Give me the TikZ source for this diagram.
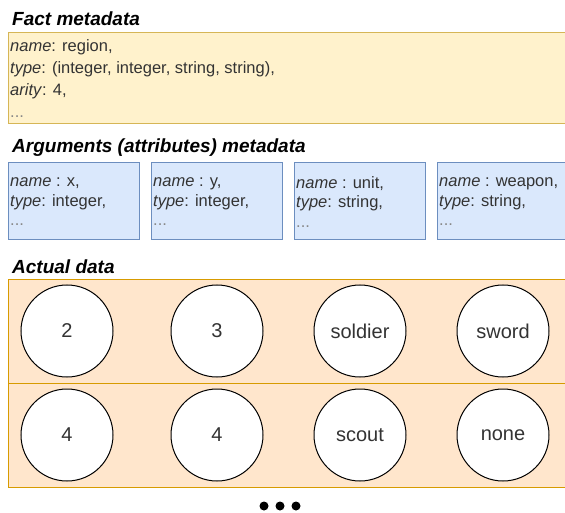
\documentclass[tikz,border=0pt]{standalone}
\usepackage{fontspec}
\setmainfont{Liberation Sans}
\definecolor{yfill}{HTML}{FFF2CC}
\definecolor{yedge}{HTML}{D6B656}
\definecolor{bfill}{HTML}{DAE8FC}
\definecolor{bedge}{HTML}{6C8EBF}
\definecolor{ofill}{HTML}{FFE6CC}
\definecolor{oedge}{HTML}{D79B00}
\definecolor{txt}{HTML}{333333}
\definecolor{dotgray}{HTML}{888888}
\begin{document}
\begin{tikzpicture}[x=1pt,y=-1pt,
  titletext/.style={anchor=west, inner sep=0pt, font=\fontsize{19}{22}\selectfont\bfseries\itshape},
  panel/.style={rectangle, anchor=north west, inner sep=0pt, line width=1pt},
  factbox/.style={panel, draw=yedge, fill=yfill, minimum width=580pt, minimum height=91pt},
  argbox/.style={panel, draw=bedge, fill=bfill, minimum width=131pt, minimum height=77pt},
  rowbox/.style={panel, draw=oedge, fill=ofill, minimum width=580pt, minimum height=104pt},
  facttext/.style={anchor=west, inner sep=0pt, align=left, text=txt, font=\fontsize{16.5}{22}\selectfont},
  argtext/.style={anchor=west, inner sep=0pt, align=left, text=txt, font=\fontsize{16.5}{19.5}\selectfont},
  value/.style={circle, draw=black, fill=white, line width=1pt, minimum size=92pt, inner sep=0pt, text=txt, font=\fontsize{20}{24}\selectfont},
  moredot/.style={circle, fill=black, minimum size=9pt, inner sep=0pt},
]
\useasboundingbox (0,0) rectangle (565,513);
\clip (0,0) rectangle (565,513);

% Fact metadata
\node[titletext] (facttitle) at (12,19) {Fact metadata};
\node[factbox] (fact) at (8,32) {};
\node[facttext] (factinfo) at (10,78.5) {\textit{name}: region,\\\textit{type}: (integer, integer, string, string),\\\textit{arity}: 4,\\\textcolor{dotgray}{...}};

% Arguments metadata
\node[titletext] (argtitle) at (12,148) {Arguments (attributes) metadata};
\node[argbox] (arg1) at (8,162) {};
\node[argbox] (arg2) at (151,162) {};
\node[argbox] (arg3) at (294,162) {};
\node[argbox] (arg4) at (437,162) {};
\node[argtext] (arg1t) at (10,202) {\textit{name} : x,\\\textit{type}: integer,\\\textcolor{dotgray}{...}};
\node[argtext] (arg2t) at (153,202) {\textit{name} : y,\\\textit{type}: integer,\\\textcolor{dotgray}{...}};
\node[argtext] (arg3t) at (296,202) {\textit{name} : unit,\\\textit{type}: string,\\\textcolor{dotgray}{...}};
\node[argtext] (arg4t) at (439,202) {\textit{name} : weapon,\\\textit{type}: string,\\\textcolor{dotgray}{...}};

% Actual data
\node[titletext] (datatitle) at (12,267) {Actual data};
\node[rowbox] (row1) at (8,279) {};
\node[rowbox] (row2) at (8,383) {};
\node[value] (v11) at (67,331) {2};
\node[value] (v12) at (217,331) {3};
\node[value] (v13) at (360,331) {soldier};
\node[value] (v14) at (503,331) {sword};
\node[value] (v21) at (67,435) {4};
\node[value] (v22) at (217,435) {4};
\node[value] (v23) at (360,435) {scout};
\node[value] (v24) at (503,435) {none};

% ellipsis
\node[moredot] (d1) at (264,506) {};
\node[moredot] (d2) at (280,506) {};
\node[moredot] (d3) at (296,506) {};
\end{tikzpicture}
\end{document}
